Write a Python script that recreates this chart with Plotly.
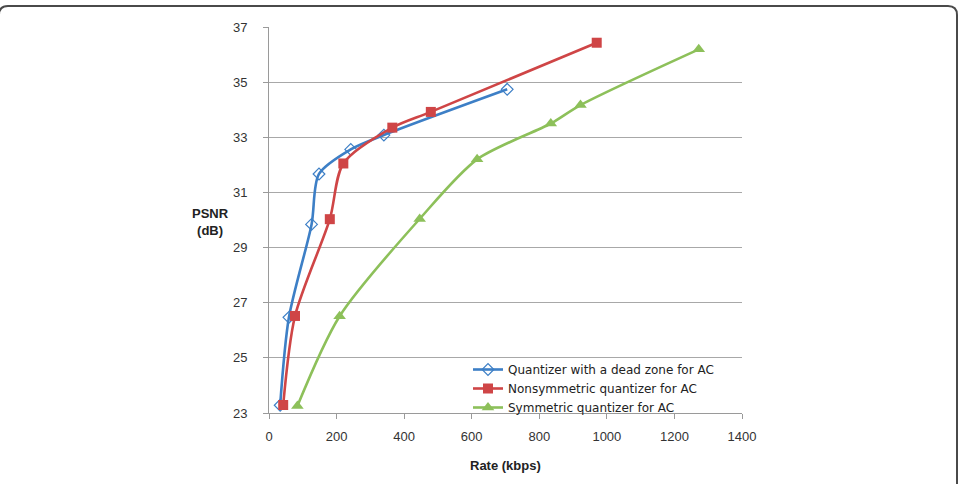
import plotly.graph_objects as go

# Data (Rate kbps, PSNR dB)
dead_zone_rate = [33, 59, 126, 148, 242, 340, 705]
dead_zone_psnr = [23.28, 26.47, 29.84, 31.67, 32.56, 33.08, 34.74]

nonsym_rate = [42, 77, 180, 220, 365, 479, 970]
nonsym_psnr = [23.29, 26.52, 30.03, 32.05, 33.35, 33.92, 36.43]

sym_rate = [84, 209, 446, 616, 834, 922, 1272]
sym_psnr = [23.25, 26.51, 30.04, 32.2, 33.5, 34.17, 36.19]

x_ticks = [0, 200, 400, 600, 800, 1000, 1200, 1400]
y_ticks = [23, 25, 27, 29, 31, 33, 35, 37]

W, H = 959, 484
L, R, T, B = 269, 217, 27, 71
pw, ph = W - L - R, H - T - B

def px(x):
    return (x - L) / pw

def py(y):
    return (H - B - y) / ph

fig = go.Figure()
fig.add_trace(go.Scatter(
    x=dead_zone_rate, y=dead_zone_psnr, mode="lines+markers",
    name="Quantizer with a dead zone for AC",
    line=dict(color="#3d7fc6", width=2.6, shape="spline", smoothing=0.8),
    marker=dict(symbol="diamond-open", size=9, color="#3d7fc6", line=dict(width=1.2))))
fig.add_trace(go.Scatter(
    x=nonsym_rate, y=nonsym_psnr, mode="lines+markers",
    name="Nonsymmetric quantizer for AC",
    line=dict(color="#cf4546", width=2.6, shape="spline", smoothing=0.8),
    marker=dict(symbol="square", size=10, color="#cf4546")))
fig.add_trace(go.Scatter(
    x=sym_rate, y=sym_psnr, mode="lines+markers",
    name="Symmetric quantizer for AC",
    line=dict(color="#8dc05a", width=2.6, shape="spline", smoothing=0.8),
    marker=dict(symbol="triangle-up", size=11, color="#8dc05a")))

font_family = "Liberation Sans, Arial, sans-serif"

fig.update_layout(
    width=W, height=H,
    margin=dict(l=L, r=R, t=T, b=B),
    paper_bgcolor="white", plot_bgcolor="white",
    font=dict(family=font_family, size=13, color="#333333"),
    showlegend=True,
    legend=dict(x=px(468), y=py(355), xanchor="left", yanchor="top",
                bgcolor="rgba(255,255,255,0)",
                font=dict(family="DejaVu Sans, sans-serif", size=12, color="#222222"),
                tracegroupgap=0, itemwidth=30),
    xaxis=dict(range=[0, 1400], tickvals=x_ticks, ticktext=[str(v) for v in x_ticks],
               showgrid=False, zeroline=False, showline=True, linecolor="#9a9a9a",
               linewidth=1, ticks="outside", ticklen=5, tickcolor="#9a9a9a",
               ticklabelstandoff=6,
               tickfont=dict(size=13, color="#333333")),
    yaxis=dict(range=[23, 37], tickvals=y_ticks, ticktext=[str(v) for v in y_ticks],
               showgrid=True, gridcolor="#a8a8a8", gridwidth=1, zeroline=False,
               showline=True, linecolor="#9a9a9a", linewidth=1,
               ticks="outside", ticklen=5, tickcolor="#9a9a9a",
               ticklabelstandoff=13,
               tickfont=dict(size=13, color="#333333")),
    annotations=[
        dict(text="<b>PSNR<br>(dB)</b>", xref="paper", yref="paper",
             x=px(210), y=py(222), xanchor="center", yanchor="middle",
             showarrow=False, font=dict(size=13, color="#222222")),
        dict(text="<b>Rate (kbps)</b>", xref="paper", yref="paper",
             x=px(505), y=py(465), xanchor="center", yanchor="middle",
             showarrow=False, font=dict(size=13, color="#222222")),
    ],
)

# rounded outer frame
x0, x1, y0, y1, r = -1, 957, 6, 495, 9
path = (f"M {px(x0)},{py(y1)} L {px(x0)},{py(y0 + r)} "
        f"Q {px(x0)},{py(y0)} {px(x0 + r)},{py(y0)} "
        f"L {px(x1 - r)},{py(y0)} Q {px(x1)},{py(y0)} {px(x1)},{py(y0 + r)} "
        f"L {px(x1)},{py(y1)}")
fig.add_shape(type="path", path=path, xref="paper", yref="paper",
              line=dict(color="#4a4a4a", width=2), layer="above")

fig.write_html("out.html")
